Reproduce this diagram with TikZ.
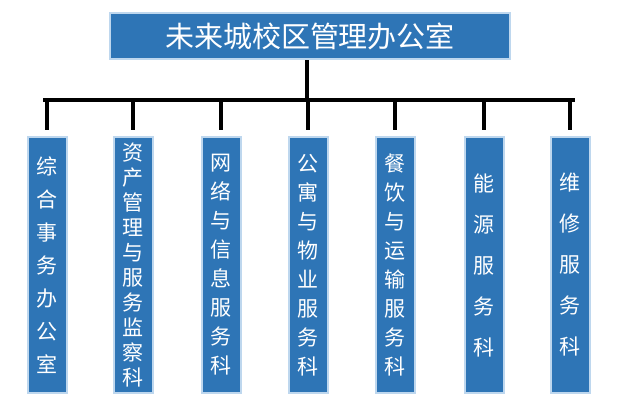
\documentclass[tikz,border=0pt]{standalone}
\usepackage{fontspec}
\newfontfamily\cjk{Noto Sans CJK SC}
\usetikzlibrary{positioning}
\definecolor{boxblue}{RGB}{46,117,182}
\definecolor{glowblue}{RGB}{190,215,238}
\begin{document}
\begin{tikzpicture}[x=1pt,y=-1pt,line width=3.5pt]
  \tikzset{
    unitbox/.style={fill=boxblue,draw=glowblue,line width=2pt,
      minimum width=39pt,minimum height=256pt,inner sep=0pt,
      text=white,align=center,anchor=north,font=\cjk\fontsize{21}{#1}\selectfont},
    headbox/.style={fill=boxblue,draw=glowblue,line width=2.5pt,
      minimum width=400pt,minimum height=46pt,text=white,font=\cjk\fontsize{29}{32}\selectfont}
  }
  \useasboundingbox (0,0) rectangle (625,409);

  % top office
  \node[headbox] (head) at (310,36) {未来城校区管理办公室};
  \coordinate (bus) at (307,100);
  \draw (head.south -| bus) -- (bus);
  \draw (43,100) -- (575,100);

  % sections
  \foreach \name/\x/\skip/\txt in {
    zh/47/33/{综\\合\\事\\务\\办\\公\\室},
    zc/133/25/{资\\产\\管\\理\\与\\服\\务\\监\\察\\科},
    wl/221/29/{网\\络\\与\\信\\息\\服\\务\\科},
    gy/308/29/{公\\寓\\与\\物\\业\\服\\务\\科},
    cy/395/29/{餐\\饮\\与\\运\\输\\服\\务\\科},
    ny/484/41/{能\\源\\服\\务\\科},
    wx/570/41/{维\\修\\服\\务\\科}}{
    \node[unitbox=\skip] (\name) at (\x,136) {\txt};
    \coordinate (\name-top) at (\x,100);
    \draw (\name-top) -- ([yshift=6pt]\name.north);
  }
\end{tikzpicture}
\end{document}
